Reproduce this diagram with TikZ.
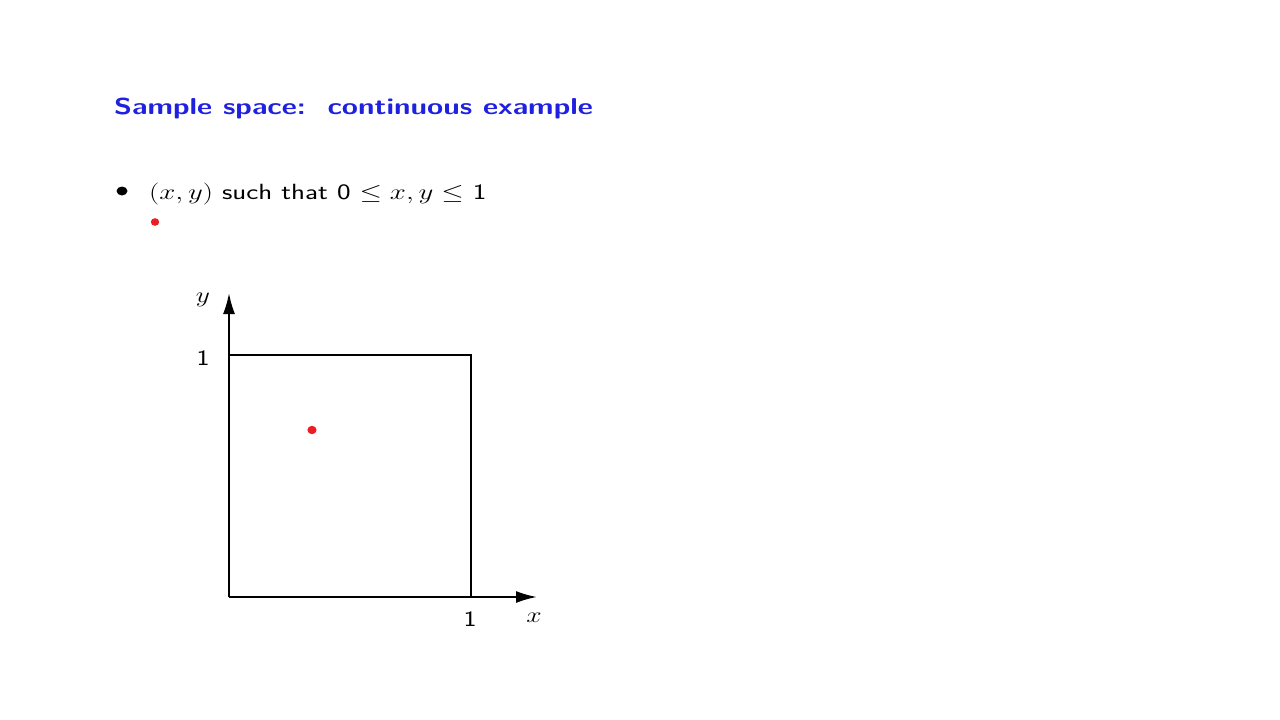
\RequirePackage{fix-cm}
\documentclass[tikz,border=0pt]{standalone}
\usepackage{graphicx}
\usepackage{fontspec}
\setsansfont{Latin Modern Sans}
\usetikzlibrary{arrows.meta}
\definecolor{titleblue}{RGB}{32,32,224}
\definecolor{dotred}{RGB}{235,30,35}
\begin{document}
\begin{tikzpicture}[x=1pt,y=-1pt,
  txt/.style={inner sep=0pt,anchor=base west,font=\sffamily\fontsize{22}{24}\selectfont},
  lbl/.style={inner sep=0pt,font=\sffamily\fontsize{22}{24}\selectfont},
  axis/.style={line width=2pt,-{Latex[length=21pt,width=12pt]}},
  box/.style={line width=1.6pt},
  reddot/.style={fill=dotred,draw=none}]
\useasboundingbox (0,0) rectangle (1280,720);
\fill[white] (0,0) rectangle (1280,720);
\node[inner sep=0pt,anchor=base west,text=titleblue,font=\sffamily\bfseries\fontsize{23}{27}\selectfont] (title) at (114,114) {\scalebox{1.28}[1]{Sample space:\ \ continuous example}};
\fill (122,191) ellipse (5.5 and 4.5) coordinate (bul);
\node[txt] (item) at (149,199) {\scalebox{1.31}[1]{$(x,y)$ such that 0 $\le x,y\le$ 1}};
\fill[reddot] (155,222) ellipse (4.2 and 3.8);
\coordinate (O) at (229,597);
\coordinate (X1) at (471,597);
\coordinate (Y1) at (229,355);
\coordinate (C) at (471,355);
\coordinate (XE) at (537,597);
\coordinate (YE) at (229,293);
\draw[box] (Y1) -- (C) -- (X1);
\draw[axis] (O) -- (XE);
\draw[axis] (O) -- (YE);
\node[lbl] (ly) at (203,300) {\scalebox{1.25}[1]{$y$}};
\node[lbl] (l1y) at (203,358) {\scalebox{1.25}[1]{1}};
\node[lbl] (l1x) at (470,619) {\scalebox{1.25}[1]{1}};
\node[lbl] (lx) at (534,618) {\scalebox{1.25}[1]{$x$}};
\fill[reddot] (312,430) ellipse (4.6 and 4.2);
\end{tikzpicture}
\end{document}
